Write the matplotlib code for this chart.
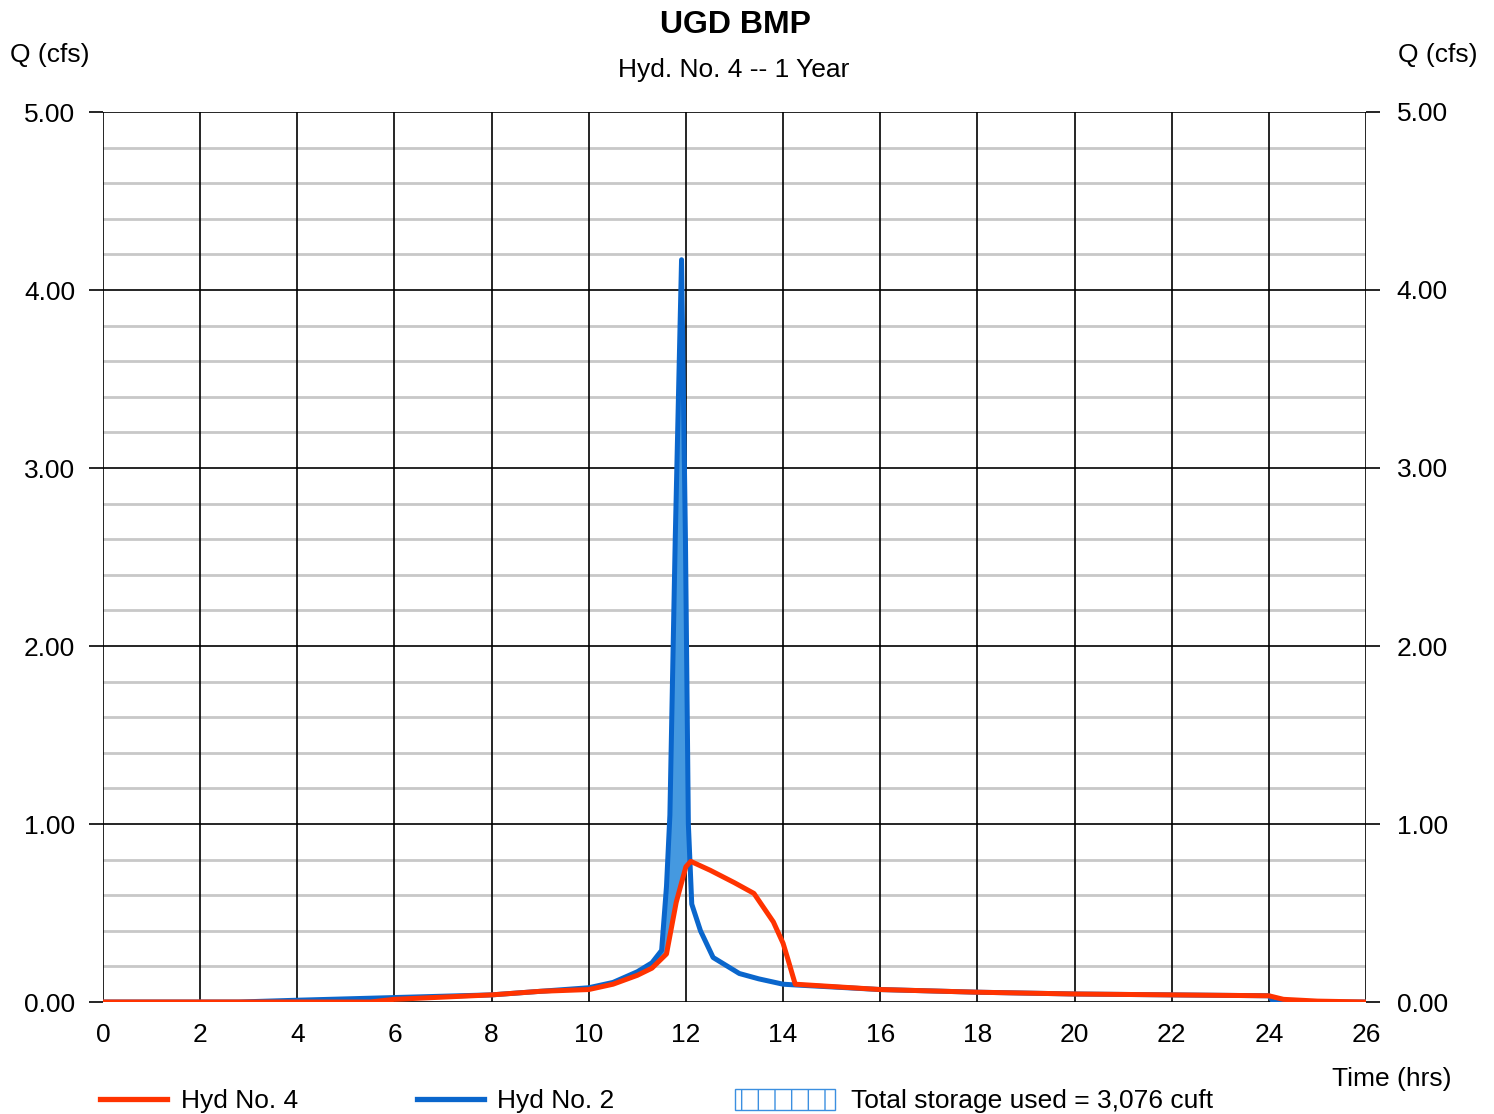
import numpy as np
import matplotlib
matplotlib.use("Agg")
import matplotlib.pyplot as plt
from matplotlib.lines import Line2D
from matplotlib.patches import Rectangle

plt.rcParams['font.family'] = ['Liberation Sans', 'DejaVu Sans']

# ---- data ----
t_in = [0, 2, 2.8, 4, 6, 8, 9, 10, 10.5, 11, 11.3, 11.5, 11.6, 11.67, 11.78, 11.91,
        11.99, 12.05, 12.12, 12.3, 12.56, 13.1, 13.5, 14.0, 14.3, 16, 18, 20, 22, 24, 24.1, 26]
q_in = [0, 0, 0, 0.01, 0.025, 0.04, 0.06, 0.08, 0.11, 0.17, 0.22, 0.29, 0.65, 1.05, 2.6, 4.17,
        2.6, 1.0, 0.55, 0.4, 0.25, 0.16, 0.13, 0.10, 0.095, 0.07, 0.055, 0.045, 0.04, 0.035, 0.0, 0.0]

t_out = [0, 5.5, 6, 8, 9, 10, 10.5, 11, 11.3, 11.6, 11.8, 12.0, 12.1, 12.5, 13.0, 13.4,
         13.8, 14.0, 14.1, 14.25, 16, 18, 20, 22, 24, 24.3, 25, 26]
q_out = [0, 0, 0.015, 0.04, 0.06, 0.07, 0.1, 0.15, 0.19, 0.27, 0.56, 0.76, 0.79, 0.74, 0.67, 0.61,
         0.45, 0.33, 0.24, 0.1, 0.07, 0.055, 0.045, 0.04, 0.035, 0.015, 0.005, 0.0]

x_ticks = list(range(0, 27, 2))
y_ticks = [0, 1, 2, 3, 4, 5]
y_labels = ["0.00", "1.00", "2.00", "3.00", "4.00", "5.00"]

title = "UGD BMP"
subtitle = "Hyd. No. 4 -- 1 Year"
storage_text = "Total storage used = 3,076 cuft"

RED = "#ff3300"
BLUE = "#0a66cc"
FILL = "#4599e0"
FS = 19

fig = plt.figure(figsize=(14.94, 11.14), dpi=100)
ax = fig.add_axes([103/1494, 1-1002/1114, (1366-103)/1494, (1002-112)/1114])

ax.set_xlim(0, 26)
ax.set_ylim(0, 5)

# grid
for yv in np.arange(0.2, 5.0, 0.2):
    if abs(yv - round(yv)) > 1e-6:
        ax.axhline(yv, color="#c8c8c8", lw=2.0, zorder=0)
for yv in y_ticks:
    ax.axhline(yv, color="black", lw=1.2, zorder=1)
for xv in x_ticks:
    ax.axvline(xv, color="black", lw=1.2, zorder=1)

# storage fill
tg = np.linspace(0, 26, 5201)
qi = np.interp(tg, t_in, q_in)
qo = np.interp(tg, t_out, q_out)
mask = (tg > 11.0) & (tg < 12.5)
ax.fill_between(tg, qo, qi, where=mask & (qi > qo), color=FILL, lw=0, zorder=2)

ax.plot(t_in, q_in, color=BLUE, lw=3.6, zorder=3, solid_joinstyle='round')
ax.plot(t_out, q_out, color=RED, lw=3.6, zorder=4, solid_joinstyle='round')

for s in ax.spines.values():
    s.set_visible(False)

ax.set_xticks(x_ticks)
ax.set_xticklabels([str(v) for v in x_ticks], fontsize=FS)
ax.tick_params(axis='x', length=0, pad=15)
ax.set_yticks(y_ticks)
ax.set_yticklabels(y_labels, fontsize=FS)
ax.tick_params(axis='y', length=10, width=1.2, pad=10, direction='out')

ax2 = ax.twinx()
ax2.set_ylim(0, 5)
ax2.set_yticks(y_ticks)
ax2.set_yticklabels(y_labels, fontsize=FS)
ax2.tick_params(axis='y', length=10, width=1.2, pad=12, direction='out')
for s in ax2.spines.values():
    s.set_visible(False)

# texts
fig.text(735/1494, 1-25/1114, title, fontsize=23, fontweight='bold', ha='center', va='center')
fig.text(734/1494, 1-70/1114, subtitle, fontsize=FS, ha='center', va='center')
fig.text(10/1494, 1-55/1114, "Q (cfs)", fontsize=FS, ha='left', va='center')
fig.text(1477/1494, 1-55/1114, "Q (cfs)", fontsize=FS, ha='right', va='center')
fig.text(1451/1494, 1-1079/1114, "Time (hrs)", fontsize=FS, ha='right', va='center')

# legend
ly = 1 - 1101/1114
fig.add_artist(Line2D([100/1494, 167/1494], [1-1099/1114, 1-1099/1114], color=RED, lw=3.8))
fig.text(181/1494, ly, "Hyd No. 4", fontsize=FS, ha='left', va='center')
fig.add_artist(Line2D([417/1494, 484/1494], [1-1099/1114, 1-1099/1114], color=BLUE, lw=3.8))
fig.text(497/1494, ly, "Hyd No. 2", fontsize=FS, ha='left', va='center')
plt.rcParams['hatch.color'] = '#3b8fe0'
plt.rcParams['hatch.linewidth'] = 1.0
fig.add_artist(Rectangle((735/1494, 1-1110/1114), 100/1494, 21/1114, transform=fig.transFigure,
                         facecolor='white', edgecolor='#3b8fe0', hatch='|', lw=1.0))
fig.text(851/1494, ly, storage_text, fontsize=FS, ha='left', va='center')

fig.savefig("out.png", dpi=100)
